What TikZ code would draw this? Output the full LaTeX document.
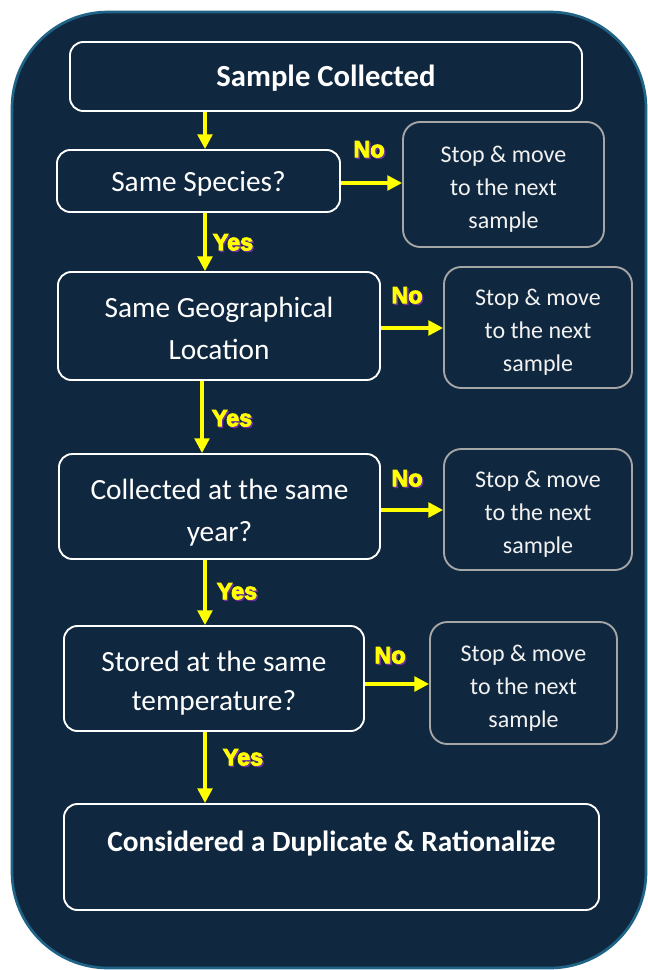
\documentclass[tikz,border=0pt]{standalone}
\usepackage{fontspec}
\setmainfont{Carlito}
\newfontfamily\yesfont{Liberation Sans}[BoldFeatures={FakeBold=4}]
\usetikzlibrary{arrows.meta}
\definecolor{navy}{HTML}{10283F}
\definecolor{rim}{HTML}{1F6386}
\definecolor{stopgray}{HTML}{A6A6A6}
\definecolor{yel}{HTML}{FFFF00}
\definecolor{shadowpurple}{HTML}{7030A0}
\newcommand{\yn}[1]{{\yesfont\bfseries\makebox[0pt][l]{\hspace{1pt}\raisebox{-1pt}{\color{shadowpurple}#1}}#1}}
\begin{document}
\begin{tikzpicture}[x=0.75pt,y=-0.75pt,
  qbox/.style={draw=white, line width=1.4pt, rounded corners=10pt, inner sep=0pt},
  stopbox/.style={draw=stopgray, line width=1.4pt, rounded corners=13pt, inner sep=0pt},
  qtext/.style={align=center, text=white, font=\fontsize{22}{31.5}\selectfont, inner sep=0pt},
  ttext/.style={qtext, font=\fontsize{23}{31.5}\selectfont\bfseries},
  stoptext/.style={align=center, text=white!95!black, font=\fontsize{18}{24.6}\selectfont, inner sep=0pt},
  flow/.style={draw=yel, line width=2.4pt, -{Triangle[length=11pt,width=11pt]}},
  lbl/.style={text=yel, font=\fontsize{17.5}{18}\selectfont, inner sep=0pt}]
\useasboundingbox (0,0) rectangle (647,970);
\fill[white] (0,0) rectangle (647,970);
\draw[rim, fill=navy, line width=2pt, rounded corners=72pt] (12,12) rectangle (646,968);

\node[qbox, minimum width=384pt, minimum height=51.75pt] (sc) at (326,76.5) {};
\node[ttext] (sc-t) at ([yshift=-1.5pt]sc.center) {Sample Collected};

\node[qbox, minimum width=212.25pt, minimum height=46.5pt] (ss) at (198.5,181) {};
\node[qtext] (ss-t) at ([yshift=-2.25pt]ss.center) {Same Species?};

\node[stopbox, minimum width=150.75pt, minimum height=93.75pt] (st1) at (503.5,184.5) {};
\node[stoptext] (st1-t) at ([yshift=-3.75pt]st1.center) {Stop \& move\\to the next\\sample};

\node[qbox, minimum width=241.5pt, minimum height=81pt] (geo) at (219,326) {};
\node[qtext] (geo-t) at ([yshift=-1.5pt]geo.center) {Same Geographical\\Location};

\node[stopbox, minimum width=141pt, minimum height=90.75pt] (st2) at (538,327.5) {};
\node[stoptext] (st2-t) at ([yshift=-3.75pt]st2.center) {Stop \& move\\to the next\\sample};

\node[qbox, minimum width=240.75pt, minimum height=78.75pt] (yr) at (219.5,506.5) {};
\node[qtext] (yr-t) at ([yshift=-4.5pt]yr.center) {Collected at the same\\year?};

\node[stopbox, minimum width=141pt, minimum height=90.75pt] (st3) at (538,509.5) {};
\node[stoptext] (st3-t) at ([yshift=-3.75pt]st3.center) {Stop \& move\\to the next\\sample};

\node[qbox, minimum width=225pt, minimum height=78.75pt] (tmp) at (214,678.5) {};
\node[qtext, font=\fontsize{22}{29.5}\selectfont] (tmp-t) at ([yshift=-3.5pt]tmp.center) {Stored at the same\\temperature?};

\node[stopbox, minimum width=140.25pt, minimum height=91.5pt] (st4) at (523.5,683) {};
\node[stoptext] (st4-t) at ([yshift=-3.75pt]st4.center) {Stop \& move\\to the next\\sample};

\node[qbox, minimum width=401.25pt, minimum height=79.5pt] (dup) at (331.5,857) {};
\node[ttext, font=\fontsize{22}{26}\selectfont\bfseries] (dup-t) at (331.5,843) {Considered a Duplicate \& Rationalize};

\draw[flow] (sc.south -| 205,0) -- (ss.north -| 205,0);
\draw[flow] (ss.south -| 205,0) -- (geo.north -| 205,0);
\draw[flow] (geo.south -| 202,0) -- (yr.north -| 202,0);
\draw[flow] (yr.south -| 205,0) -- (tmp.north -| 205,0);
\draw[flow] (tmp.south -| 205,0) -- (dup.north -| 205,0);

\draw[flow] (ss.east |- 0,183) -- (st1.west |- 0,183);
\draw[flow] (geo.east |- 0,328) -- (st2.west |- 0,328);
\draw[flow] (yr.east |- 0,510) -- (st3.west |- 0,510);
\draw[flow] (tmp.east |- 0,684) -- (st4.west |- 0,684);

\node[lbl] (y1) at (233,243) {\yn{Yes}};
\node[lbl] (y2) at (232,419) {\yn{Yes}};
\node[lbl] (y3) at (237,592) {\yn{Yes}};
\node[lbl] (y4) at (243,758) {\yn{Yes}};
\node[lbl] (n1) at (369,150) {\yn{No}};
\node[lbl] (n2) at (407,296) {\yn{No}};
\node[lbl] (n3) at (407,479) {\yn{No}};
\node[lbl] (n4) at (390,656) {\yn{No}};
\end{tikzpicture}
\end{document}
